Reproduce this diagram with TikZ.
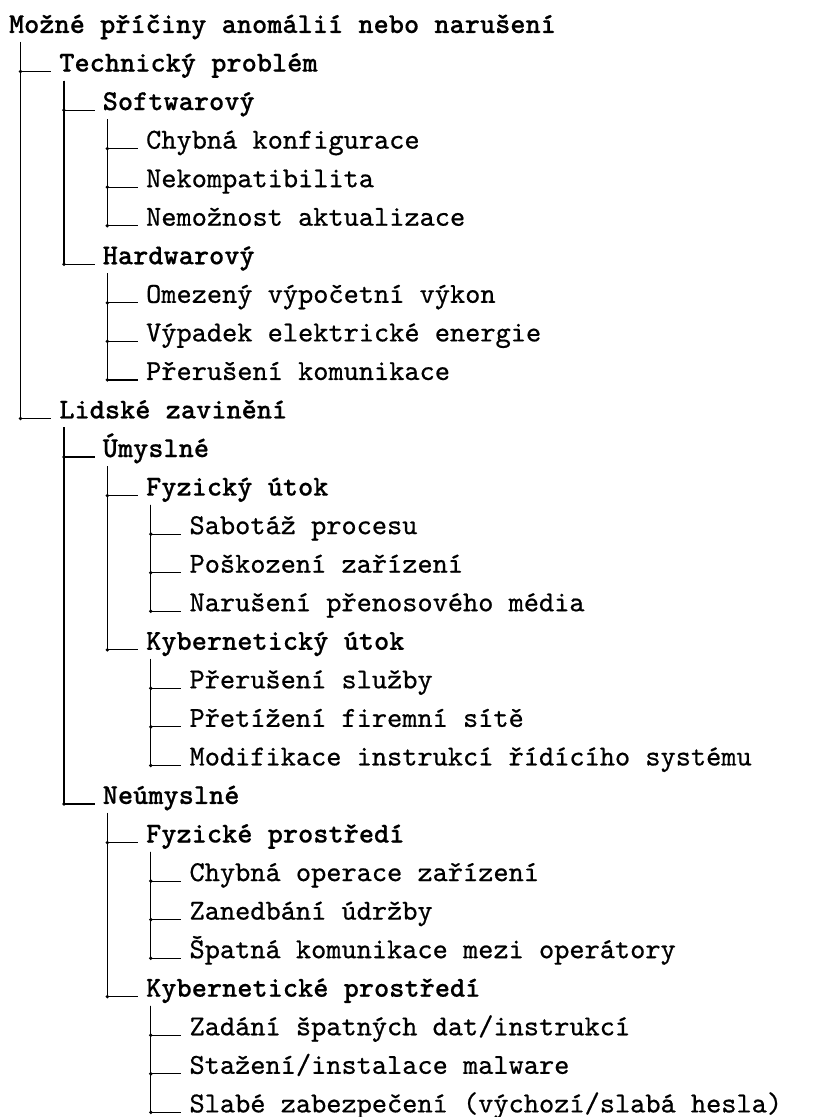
\documentclass[tikz,border=0pt]{standalone}
\usepackage{fontspec}
\setmonofont{lmmono10-regular}[Extension=.otf, UprightFeatures={FakeBold=0.6},
  BoldFont=lmmonolt10-bold, BoldFeatures={FakeBold=0.4}]
\begin{document}
\begin{tikzpicture}[x=1pt, y=-13.32pt,
  item/.style={anchor=base west, inner xsep=2.6pt, inner ysep=0.9pt,
    text height=7.5pt, text depth=2pt, font=\ttfamily},
  group/.style={item, font=\ttfamily\bfseries},
  jdot/.style={circle, fill, inner sep=0pt, minimum size=1.3pt}]
  \useasboundingbox (0,-0.856) rectangle (286.4,28.12);

  % Kořen
  \node[group] (root) at (0.3,0) {Možné příčiny anomálií nebo narušení};

  % Technický problém
  \node[group] (tech) at (17.7,1) {Technický problém};
  \node[group] (sw) at (32.7,2) {Softwarový};
  \node[item] (sw1) at (47.7,3) {Chybná konfigurace};
  \node[item] (sw2) at (47.7,4) {Nekompatibilita};
  \node[item] (sw3) at (47.7,5) {Nemožnost aktualizace};
  \node[group] (hw) at (32.7,6) {Hardwarový};
  \node[item] (hw1) at (47.7,7) {Omezený výpočetní výkon};
  \node[item] (hw2) at (47.7,8) {Výpadek elektrické energie};
  \node[item] (hw3) at (47.7,9) {Přerušení komunikace};

  % Lidské zavinění - úmyslné
  \node[group] (human) at (17.7,10) {Lidské zavinění};
  \node[group] (intent) at (32.7,11) {Úmyslné};
  \node[group] (phys) at (47.7,12) {Fyzický útok};
  \node[item] (phys1) at (62.7,13) {Sabotáž procesu};
  \node[item] (phys2) at (62.7,14) {Poškození zařízení};
  \node[item] (phys3) at (62.7,15) {Narušení přenosového média};
  \node[group] (cyber) at (47.7,16) {Kybernetický útok};
  \node[item] (cyber1) at (62.7,17) {Přerušení služby};
  \node[item] (cyber2) at (62.7,18) {Přetížení firemní sítě};
  \node[item] (cyber3) at (62.7,19) {Modifikace instrukcí řídícího systému};

  % Lidské zavinění - neúmyslné
  \node[group] (unint) at (32.7,20) {Neúmyslné};
  \node[group] (env) at (47.7,21) {Fyzické prostředí};
  \node[item] (env1) at (62.7,22) {Chybná operace zařízení};
  \node[item] (env2) at (62.7,23) {Zanedbání údržby};
  \node[item] (env3) at (62.7,24) {Špatná komunikace mezi operátory};
  \node[group] (cenv) at (47.7,25) {Kybernetické prostředí};
  \node[item] (cenv1) at (62.7,26) {Zadání špatných dat/instrukcí};
  \node[item] (cenv2) at (62.7,27) {Stažení/instalace malware};
  \node[item] (cenv3) at (62.7,28) {Slabé zabezpečení (výchozí/slabá hesla)};

  % Větve
  \draw (root.south -| tech.west) ++(-10.6pt,0) |- node[jdot]{} (tech.base west);
  \draw (root.south -| human.west) ++(-10.6pt,0) |- node[jdot]{} (human.base west);
  \draw (tech.south -| sw.west) ++(-10.6pt,0) |- node[jdot]{} (sw.base west);
  \draw (tech.south -| hw.west) ++(-10.6pt,0) |- node[jdot]{} (hw.base west);
  \draw (sw.south -| sw1.west) ++(-10.6pt,0) |- node[jdot]{} (sw1.base west);
  \draw (sw.south -| sw2.west) ++(-10.6pt,0) |- node[jdot]{} (sw2.base west);
  \draw (sw.south -| sw3.west) ++(-10.6pt,0) |- node[jdot]{} (sw3.base west);
  \draw (hw.south -| hw1.west) ++(-10.6pt,0) |- node[jdot]{} (hw1.base west);
  \draw (hw.south -| hw2.west) ++(-10.6pt,0) |- node[jdot]{} (hw2.base west);
  \draw (hw.south -| hw3.west) ++(-10.6pt,0) |- node[jdot]{} (hw3.base west);
  \draw (human.south -| intent.west) ++(-10.6pt,0) |- node[jdot]{} (intent.base west);
  \draw (human.south -| unint.west) ++(-10.6pt,0) |- node[jdot]{} (unint.base west);
  \draw (intent.south -| phys.west) ++(-10.6pt,0) |- node[jdot]{} (phys.base west);
  \draw (intent.south -| cyber.west) ++(-10.6pt,0) |- node[jdot]{} (cyber.base west);
  \draw (phys.south -| phys1.west) ++(-10.6pt,0) |- node[jdot]{} (phys1.base west);
  \draw (phys.south -| phys2.west) ++(-10.6pt,0) |- node[jdot]{} (phys2.base west);
  \draw (phys.south -| phys3.west) ++(-10.6pt,0) |- node[jdot]{} (phys3.base west);
  \draw (cyber.south -| cyber1.west) ++(-10.6pt,0) |- node[jdot]{} (cyber1.base west);
  \draw (cyber.south -| cyber2.west) ++(-10.6pt,0) |- node[jdot]{} (cyber2.base west);
  \draw (cyber.south -| cyber3.west) ++(-10.6pt,0) |- node[jdot]{} (cyber3.base west);
  \draw (unint.south -| env.west) ++(-10.6pt,0) |- node[jdot]{} (env.base west);
  \draw (unint.south -| cenv.west) ++(-10.6pt,0) |- node[jdot]{} (cenv.base west);
  \draw (env.south -| env1.west) ++(-10.6pt,0) |- node[jdot]{} (env1.base west);
  \draw (env.south -| env2.west) ++(-10.6pt,0) |- node[jdot]{} (env2.base west);
  \draw (env.south -| env3.west) ++(-10.6pt,0) |- node[jdot]{} (env3.base west);
  \draw (cenv.south -| cenv1.west) ++(-10.6pt,0) |- node[jdot]{} (cenv1.base west);
  \draw (cenv.south -| cenv2.west) ++(-10.6pt,0) |- node[jdot]{} (cenv2.base west);
  \draw (cenv.south -| cenv3.west) ++(-10.6pt,0) |- node[jdot]{} (cenv3.base west);
\end{tikzpicture}
\end{document}
